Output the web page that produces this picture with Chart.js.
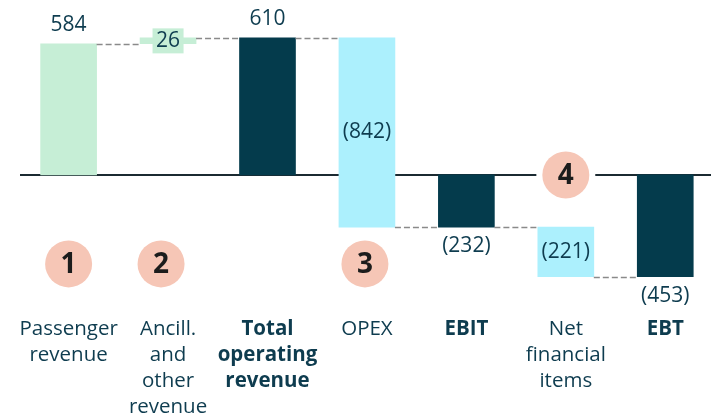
<!DOCTYPE html>
<html>
<head>
<meta charset="utf-8">
<script src="https://cdn.jsdelivr.net/npm/chart.js@4.4.0/dist/chart.umd.min.js"></script>
<style>
  body { margin: 0; background: #fff; }
</style>
</head>
<body>
<canvas id="myChart" width="711" height="413"></canvas>
<script>
// waterfall data
const categories = [
    ['Passenger', 'revenue'],
    ['Ancill.', 'and', 'other', 'revenue'],
    ['Total', 'operating', 'revenue'],
    ['OPEX'],
    ['EBIT'],
    ['Net', 'financial', 'items'],
    ['EBT']
];
const boldCategory = [false, false, true, false, true, false, true];
const barStart = [0, 584, 0, 610, 0, -232, 0];
const barEnd = [584, 610, 610, -232, -232, -453, -453];
const valueLabels = ['584', '26', '610', '(842)', '(232)', '(221)', '(453)'];
const barKind = ['start', 'delta', 'total', 'delta', 'total', 'delta', 'total'];

// numbered markers: category index + value on the y scale
const markerIndex = [0, 1, 3, 5];
const markerValue = [-396, -396, -396, 0];
const markerText = ['1', '2', '3', '4'];

const textColor = '#0e3c4f';
const green = '#c6eed6';
const cyan = '#acf0fd';
const dark = '#043b4c';

function barColor(i) {
    if (barKind[i] === 'total') return dark;
    return barEnd[i] >= barStart[i] ? green : cyan;
}

const waterfallPlugin = {
    id: 'waterfall',
    beforeDatasetsDraw(chart) {
        const ctx = chart.ctx;
        const y = chart.scales.y;
        const y0 = Math.round(y.getPixelForValue(0));
        ctx.save();
        ctx.strokeStyle = '#1b2a31';
        ctx.lineWidth = 2;
        ctx.beginPath();
        ctx.moveTo(20, y0);
        ctx.lineTo(chart.width, y0);
        ctx.stroke();
        ctx.restore();
    },
    afterDatasetsDraw(chart) {
        const ctx = chart.ctx;
        const x = chart.scales.x, y = chart.scales.y;
        const meta = chart.getDatasetMeta(0);
        ctx.save();

        // dashed connectors
        ctx.strokeStyle = '#8a8a8a';
        ctx.lineWidth = 1.5;
        ctx.setLineDash([6, 3]);
        for (let i = 0; i < barEnd.length - 1; i++) {
            const a = meta.data[i], b = meta.data[i + 1];
            const py = Math.round(y.getPixelForValue(barEnd[i])) + 0.5;
            ctx.beginPath();
            ctx.moveTo(a.x + a.width / 2, py);
            ctx.lineTo(b.x - b.width / 2, py);
            ctx.stroke();
        }
        ctx.setLineDash([]);

        // value labels
        ctx.textAlign = 'center';
        ctx.textBaseline = 'middle';
        ctx.font = '21px "Open Sans"';
        for (let i = 0; i < valueLabels.length; i++) {
            const px = x.getPixelForValue(i);
            const top = y.getPixelForValue(Math.max(barStart[i], barEnd[i]));
            const bottom = y.getPixelForValue(Math.min(barStart[i], barEnd[i]));
            let py;
            if (barKind[i] === 'delta') {
                py = (top + bottom) / 2;
                if (bottom - top < 25) {
                    ctx.fillStyle = barColor(i);
                    const w = ctx.measureText(valueLabels[i]).width + 7;
                    ctx.fillRect(px - w / 2, py - 12.5, w, 25);
                }
            } else if (barEnd[i] >= 0) {
                py = top - 19;
            } else {
                py = bottom + 19;
            }
            ctx.fillStyle = textColor;
            ctx.fillText(valueLabels[i], px, py);
        }

        // numbered markers
        for (let k = 0; k < markerIndex.length; k++) {
            let px = x.getPixelForValue(markerIndex[k]);
            if (markerIndex[k] === 1) px -= 7;
            if (markerIndex[k] === 3) px -= 2;
            const py = y.getPixelForValue(markerValue[k]);
            ctx.beginPath();
            ctx.arc(px, py, 23.5, 0, Math.PI * 2);
            ctx.fillStyle = '#f6c6b6';
            if (markerValue[k] === 0) {
                ctx.strokeStyle = '#fff';
                ctx.lineWidth = 12;
                ctx.stroke();
            }
            ctx.fill();
            ctx.fillStyle = '#1c1c1c';
            ctx.font = 'bold 28px "Open Sans"';
            ctx.fillText(markerText[k], px, py + 1);
        }

        // category labels
        for (let i = 0; i < categories.length; i++) {
            const px = x.getPixelForValue(i);
            ctx.font = (boldCategory[i] ? 'bold ' : '') + '20.5px "Open Sans"';
            ctx.fillStyle = textColor;
            categories[i].forEach((line, j) => {
                ctx.fillText(line, px, 329 + j * 26);
            });
        }
        ctx.restore();
    }
};

const data = {
    datasets: [{
        data: barStart.map((s, i) => ({ x: i, y: [s, barEnd[i]] })),
        backgroundColor: barStart.map((s, i) => barColor(i)),
        borderWidth: 0,
        barThickness: 56
    }]
};

const config = {
    type: 'bar',
    data,
    options: {
        responsive: false,
        animation: false,
        devicePixelRatio: 1,
        layout: { padding: 0 },
        plugins: {
            legend: { display: false },
            tooltip: { enabled: false }
        },
        scales: {
            x: { type: 'linear', display: false, min: -0.69, max: 6.46, offset: false },
            y: { display: false, min: -1060, max: 779 }
        }
    },
    plugins: [waterfallPlugin]
};

const myChart = new Chart(document.getElementById('myChart'), config);
</script>
</body>
</html>
